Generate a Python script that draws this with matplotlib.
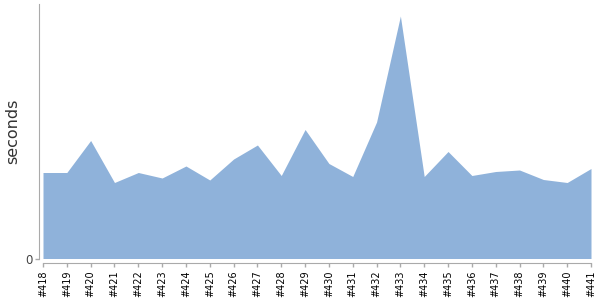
import matplotlib
matplotlib.use("Agg")
import matplotlib.pyplot as plt

# build numbers along the x axis
builds = ["#418", "#419", "#420", "#421", "#422", "#423", "#424", "#425",
          "#426", "#427", "#428", "#429", "#430", "#431", "#432", "#433",
          "#434", "#435", "#436", "#437", "#438", "#439", "#440", "#441"]

# duration per build (seconds)
seconds = [86, 86, 118, 76, 86, 80.5, 92.5, 78.5,
           99.5, 113.5, 83, 129, 95, 82, 136.5, 242.5,
           82, 107, 83, 87, 88.5, 79, 76, 90]

ymax = 254.5
fill_color = "#8fb2da"
axis_color = "#aaaaaa"

fig = plt.figure(figsize=(6, 3), dpi=100)
ax = fig.add_axes([43 / 600, 41.5 / 300, 548 / 600, 254.5 / 300])

x = list(range(len(builds)))
ax.fill_between(x, 0, seconds, color=fill_color, linewidth=0)

ax.set_xlim(0, len(builds) - 1)
ax.set_ylim(0, ymax)

for side in ["top", "right"]:
    ax.spines[side].set_visible(False)
ax.spines["left"].set_position(("outward", 2.6))
ax.spines["bottom"].set_position(("outward", 3.3))
ax.spines["left"].set_color(axis_color)
ax.spines["bottom"].set_color(axis_color)

ax.set_yticks([0])
ax.set_yticklabels(["0"], fontsize=8.5, color="#444444")
ax.set_xticks(x)
ax.set_xticklabels(builds, rotation=90, fontsize=7, color="black")
ax.tick_params(axis="both", color=axis_color, length=3, width=1, pad=2)

fig.text(13 / 600, 1 - 131 / 300, "seconds", rotation=90, fontsize=11.5,
         color="#333333", ha="center", va="center")

fig.savefig("out.png", dpi=100)
